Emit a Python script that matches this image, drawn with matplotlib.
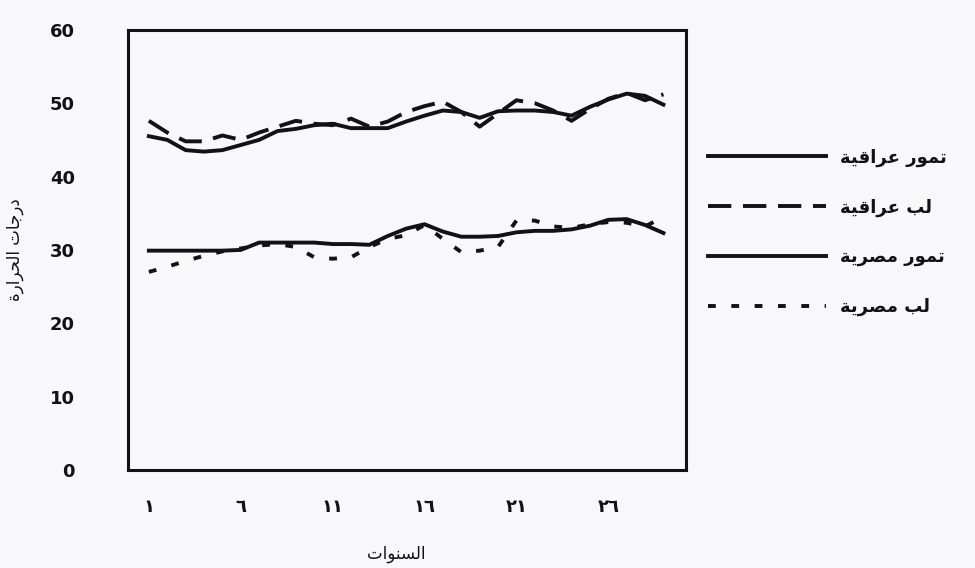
import numpy as np
import matplotlib.pyplot as plt

plt.rcParams.update(
    {
        "font.family": "DejaVu Sans",
        "font.size": 12,
        "font.weight": "bold",
    }
)

# Arabic letter forms: (isolated, final, initial, medial); None = no forward joining
FORMS = {
    "ا": (0xFE8D, 0xFE8E, None, None),
    "أ": (0xFE83, 0xFE84, None, None),
    "ت": (0xFE95, 0xFE96, 0xFE97, 0xFE98),
    "ب": (0xFE8F, 0xFE90, 0xFE91, 0xFE92),
    "ج": (0xFE9D, 0xFE9E, 0xFE9F, 0xFEA0),
    "ح": (0xFEA1, 0xFEA2, 0xFEA3, 0xFEA4),
    "د": (0xFEA9, 0xFEAA, None, None),
    "ر": (0xFEAD, 0xFEAE, None, None),
    "س": (0xFEB1, 0xFEB2, 0xFEB3, 0xFEB4),
    "ص": (0xFEB9, 0xFEBA, 0xFEBB, 0xFEBC),
    "ع": (0xFEC9, 0xFECA, 0xFECB, 0xFECC),
    "ق": (0xFED5, 0xFED6, 0xFED7, 0xFED8),
    "ل": (0xFEDD, 0xFEDE, 0xFEDF, 0xFEE0),
    "م": (0xFEE1, 0xFEE2, 0xFEE3, 0xFEE4),
    "ن": (0xFEE5, 0xFEE6, 0xFEE7, 0xFEE8),
    "و": (0xFEED, 0xFEEE, None, None),
    "ي": (0xFEF1, 0xFEF2, 0xFEF3, 0xFEF4),
    "ة": (0xFE93, 0xFE94, None, None),
}


def ar(text):
    # minimal shaping + right-to-left ordering, matplotlib does neither
    out = []
    for i, ch in enumerate(text):
        if ch not in FORMS:
            out.append(ch)
            continue
        prev = text[i - 1] if i > 0 else ""
        nxt = text[i + 1] if i + 1 < len(text) else ""
        jp = prev in FORMS and FORMS[prev][2] is not None
        jn = nxt in FORMS and FORMS[ch][2] is not None
        iso, fin, ini, med = FORMS[ch]
        if jp and jn:
            c = med
        elif jp:
            c = fin
        elif jn:
            c = ini
        else:
            c = iso
        out.append(chr(c))
    return "".join(reversed(out))


years = np.arange(1, 30)

upper_solid = [45.5, 45.0, 43.6, 43.4, 43.6, 44.3, 45.0, 46.2, 46.5, 47.0,
               47.2, 46.6, 46.6, 46.6, 47.5, 48.3, 49.0, 48.8, 48.0, 48.9,
               49.0, 49.0, 48.8, 48.3, 49.5, 50.5, 51.3, 51.0, 49.8]
upper_dashed = [47.6, 46.0, 44.8, 44.8, 45.6, 45.0, 46.0, 46.8, 47.6, 47.2,
                47.0, 47.9, 46.8, 47.5, 48.8, 49.6, 50.2, 48.8, 46.8, 48.6,
                50.4, 50.0, 49.0, 47.6, 49.2, 50.6, 51.4, 50.4, 51.2]
lower_solid = [29.9, 29.9, 29.9, 29.9, 29.9, 30.0, 31.0, 31.0, 31.0, 31.0,
               30.8, 30.8, 30.7, 31.9, 32.9, 33.5, 32.5, 31.8, 31.8, 31.9,
               32.4, 32.6, 32.6, 32.8, 33.3, 34.1, 34.2, 33.4, 32.3]
lower_dotted = [27.0, 27.7, 28.5, 29.2, 29.8, 30.2, 30.6, 30.8, 30.4, 29.0,
                28.8, 29.0, 30.4, 31.5, 32.0, 33.4, 31.5, 29.7, 29.9, 30.4,
                34.0, 34.0, 33.2, 33.0, 33.5, 33.8, 33.7, 33.2, 34.5]

labels = ["تمور عراقية", "لب عراقية", "تمور مصرية", "لب مصرية"]
xticks = [1, 6, 11, 16, 21, 26]
xtick_labels = ["١", "٦", "١١", "١٦", "٢١", "٢٦"]
yticks = [0, 10, 20, 30, 40, 50, 60]

BG = "#f8f8fa"
INK = "#111118"

fig = plt.figure(figsize=(9.75, 5.68), dpi=100, facecolor=BG)
ax = fig.add_axes([0.131, 0.1725, 0.573, 0.775], facecolor=BG)

ax.plot(years, upper_solid, color=INK, lw=2.8, label=ar(labels[0]))
ax.plot(years, upper_dashed, color=INK, lw=2.8, linestyle=(0, (6, 3)),
        label=ar(labels[1]))
ax.plot(years, lower_solid, color=INK, lw=2.8, label=ar(labels[2]))
ax.plot(years, lower_dotted, color=INK, lw=2.8, linestyle=(0, (2, 4)),
        label=ar(labels[3]))

ax.set_xlim(-0.15, 30.25)
ax.set_ylim(0, 60)
ax.set_xticks(xticks, xtick_labels)
ax.set_yticks(yticks, [str(v) for v in yticks])
ax.tick_params(length=0, labelsize=13, colors=INK)
ax.tick_params(axis="y", pad=38)
ax.tick_params(axis="x", pad=20)
for s in ax.spines.values():
    s.set_linewidth(2.2)
    s.set_color(INK)

ax.set_xlabel(ar("السنوات"), fontsize=12, color=INK)
ax.xaxis.set_label_coords(0.48, -0.17)
ax.set_ylabel(ar("درجات الحرارة"), fontsize=12, color=INK)
ax.yaxis.set_label_coords(-0.185, 0.5)

ax.legend(
    loc="center left",
    bbox_to_anchor=(1.01, 0.54),
    frameon=False,
    handlelength=6.5,
    labelspacing=1.75,
    fontsize=13,
    labelcolor=INK,
)

fig.savefig("out.png", dpi=100, facecolor=BG)
